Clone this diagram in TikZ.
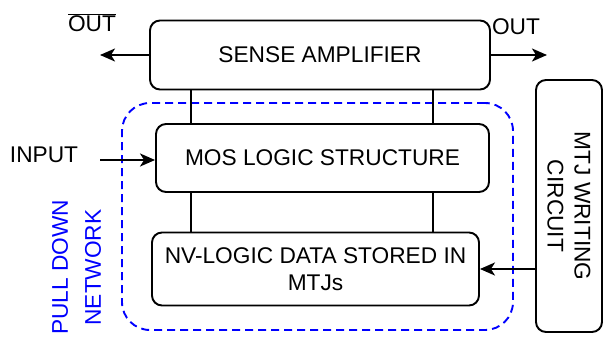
\documentclass[tikz,border=0pt]{standalone}
\usepackage{fontspec}
\setmainfont{Liberation Sans}
\usetikzlibrary{arrows.meta}

\begin{document}
\begin{tikzpicture}[x=1pt, y=-1pt,
    every node/.style={font=\fontsize{22.7}{27}\selectfont},
    box/.style={draw, line width=1.9pt, rounded corners=10pt, align=center, inner sep=0pt},
    link/.style={line width=1.9pt},
    arr/.style={line width=2pt, -{Stealth[length=15pt, width=13pt, inset=4pt]}}]
    \useasboundingbox (0,0) rectangle (603,337);

    % 下拉网络（虚线）
    \node[draw=blue, line width=1.9pt, dash pattern=on 8pt off 5pt, rounded corners=28pt,
          minimum width=391pt, minimum height=227pt] (pdn) at (317.5,216.5) {};
    \node[blue, rotate=90, align=center] (pdnlabel) at (76.5,267.5) {PULL DOWN\\[6pt]NETWORK};

    % 三个方框
    \node[box, minimum width=340pt, minimum height=69pt] (sa) at (320,55) {SENSE AMPLIFIER};
    \node[box, minimum width=333pt, minimum height=68pt] (mos) at (322.5,158) {MOS LOGIC STRUCTURE};
    \node[box, minimum width=327pt, minimum height=73pt] (nv) at (315.5,269) {NV-LOGIC DATA STORED IN\\MTJs};
    \node[box, rotate=-90, minimum width=252pt, minimum height=66pt] (mtj) at (569,206) {MTJ WRITING\\CIRCUIT};

    % 竖线
    \coordinate (lx) at (191,0);
    \coordinate (rx) at (433,0);
    \draw[link] (sa.south -| lx) -- (mos.north -| lx);
    \draw[link] (sa.south -| rx) -- (mos.north -| rx);
    \draw[link] (mos.south -| lx) -- (nv.north -| lx);
    \draw[link] (mos.south -| rx) -- (nv.north -| rx);

    % 输出
    \coordinate (outbarend) at (100,55);
    \coordinate (outend) at (547,55);
    \draw[arr] (sa.west) -- (outbarend);
    \draw[arr] (sa.east) -- (outend);
    \node (outbar) at (92,23) {$\overline{\mbox{OUT}}$};
    \node (out) at (516,27) {OUT};

    % 输入
    \node (in) at (44,155) {INPUT};
    \coordinate (instart) at (100,160);
    \draw[arr] (instart) -- (instart -| mos.west);

    % 写入电路
    \draw[arr] (nv.east -| mtj.south) -- (nv.east);
\end{tikzpicture}
\end{document}
